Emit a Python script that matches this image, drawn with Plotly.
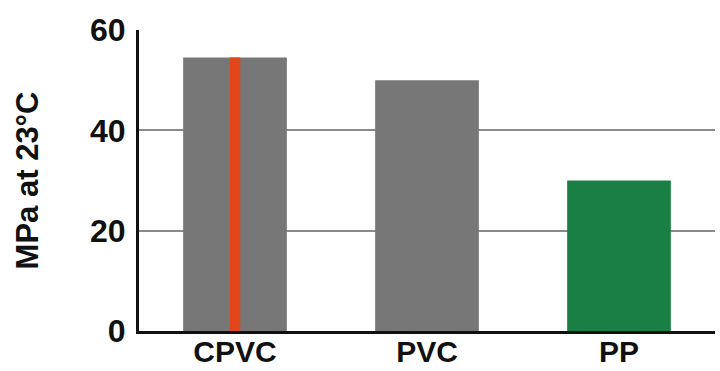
import plotly.graph_objects as go

categories = ["CPVC", "PVC", "PP"]
values = [54.5, 50, 30]
bar_colors = ["#777777", "#777777", "#1a7f45"]
stripe_category = ["CPVC"]
stripe_value = [54.5]
y_ticks = [0, 20, 40, 60]

fig = go.Figure()
fig.add_trace(go.Bar(x=categories, y=values, marker=dict(color=bar_colors, line=dict(width=0)),
                     width=0.54, hoverinfo="skip"))
fig.add_trace(go.Bar(x=stripe_category, y=stripe_value, marker=dict(color="#e2471c", line=dict(width=0)),
                     width=0.055, hoverinfo="skip"))

font_family = "Liberation Sans, Arial, sans-serif"
fig.update_layout(
    width=720, height=371,
    margin=dict(l=139, r=5, t=30, b=40, autoexpand=False),
    barmode="overlay",
    showlegend=False,
    plot_bgcolor="white", paper_bgcolor="white",
    font=dict(family=font_family, color="#111111"),
    xaxis=dict(
        automargin=False,
        showline=True, linecolor="#111111", linewidth=3,
        showgrid=False, ticks="",
        ticklabelstandoff=-8,
        tickfont=dict(size=30, family=font_family, weight="bold"),
        range=[-0.5, 2.5],
    ),
    yaxis=dict(
        automargin=False,
        range=[0, 60], tickvals=y_ticks,
        showline=True, linecolor="#111111", linewidth=3,
        showgrid=True, gridcolor="#8a8a8a", gridwidth=1.5,
        zeroline=False, ticks="",
        ticklabelstandoff=4,
        tickfont=dict(size=32, family=font_family, weight="bold"),
        title=dict(text="MPa at 23°C", font=dict(size=31, family=font_family, weight="bold"), standoff=43),
    ),
)
fig.write_html("out.html", post_script="document.body.style.margin='0';",
               config={"displayModeBar": False})
